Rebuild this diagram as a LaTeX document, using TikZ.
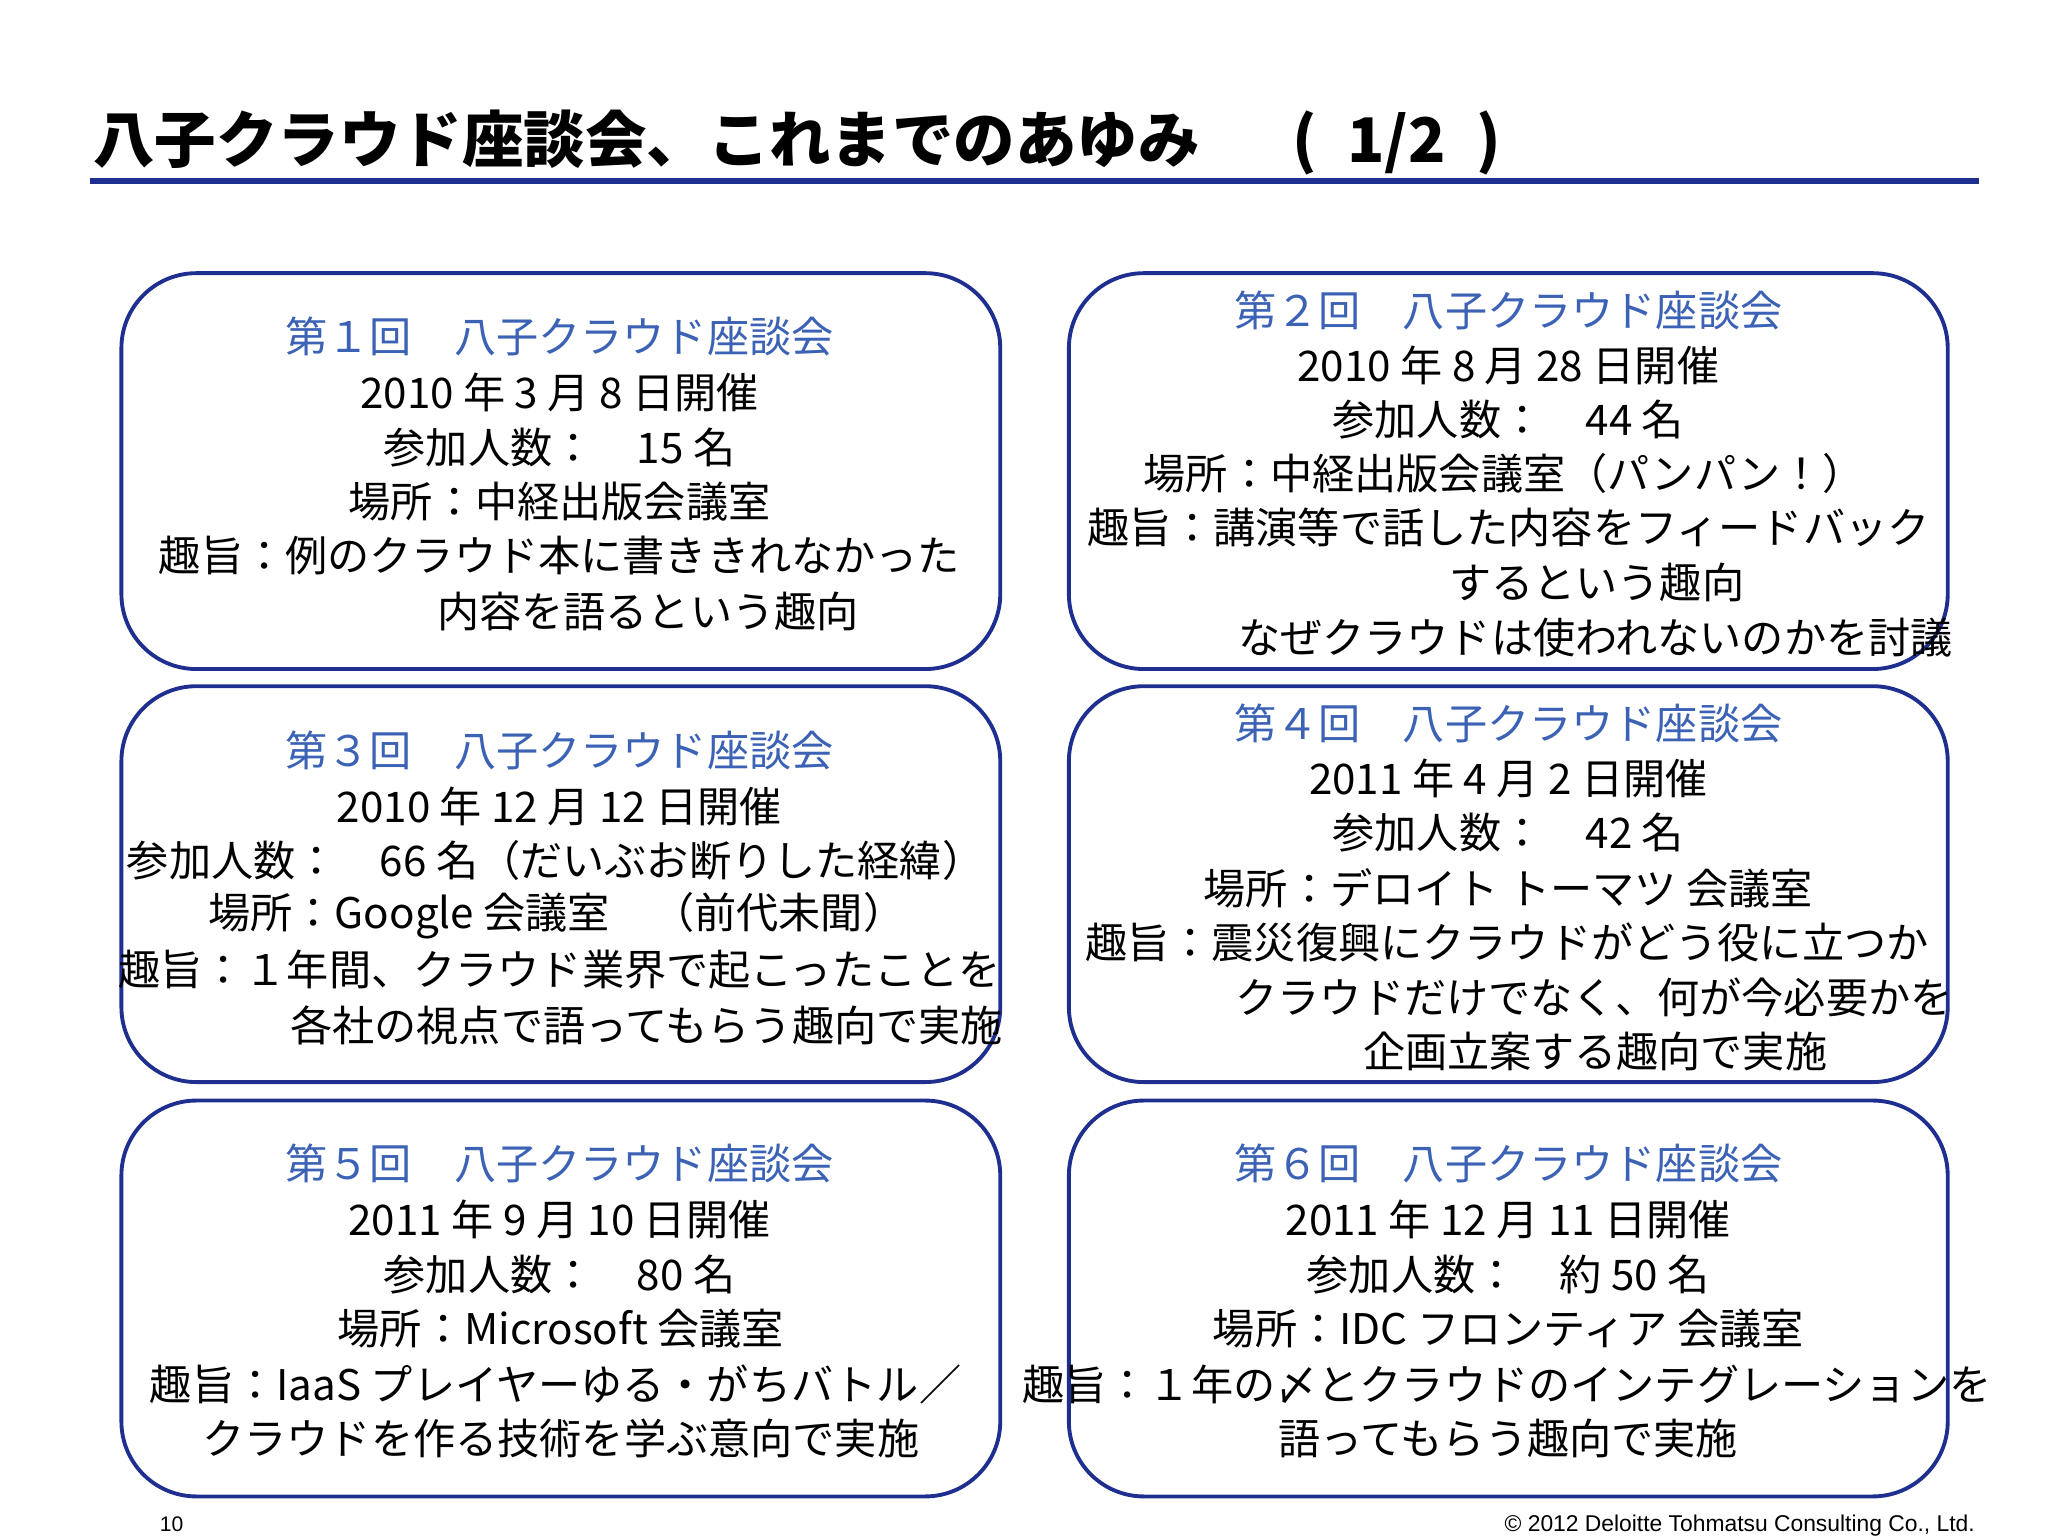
\documentclass[tikz,border=0pt]{standalone}
\usepackage{fontspec}
\setmainfont{Noto Sans CJK JP}
\newfontfamily\lat{Liberation Sans}
\definecolor{hdblue}{HTML}{3B62B5}
\definecolor{bdblue}{HTML}{1F2F8F}
\begin{document}
\begin{tikzpicture}[x=0.013196cm,y=-0.013196cm,
  box/.style={draw=bdblue,line width=1.1pt,rounded corners=0.75cm},
  ln/.style={inner sep=0pt,anchor=center,font=\fontsize{12}{14}\selectfont},
  hd/.style={ln,text=hdblue}]
\useasboundingbox (0,0) rectangle (1552,1164);
\node[anchor=west,inner sep=0pt,font=\fontsize{17.5}{20}\bfseries\selectfont] (title) at (70,108) {八子クラウド座談会、これまでのあゆみ\hspace{1.5em}(\hspace{0.5em}1/2\hspace{0.5em})};
\draw[bdblue,line width=1.6pt] (68,137) -- (1500,137);
\foreach \n/\x/\y in {b1/92/207,b2/810/207,b3/92/520,b4/810/520,b5/92/834,b6/810/834}
  \draw[box] (\x,\y) rectangle ++(666,300);
% box1
\node[hd] (t1) at (424,255) {第１回　八子クラウド座談会};
\node[ln] at (424,297) {2010 年 3 月 8 日開催};
\node[ln] at (424,339) {参加人数：　15 名};
\node[ln] at (424,380) {場所：中経出版会議室};
\node[ln] at (424,421) {趣旨：例のクラウド本に書ききれなかった};
\node[ln] at (491,463) {内容を語るという趣向};
% box2
\node[hd] (t2) at (1143,235) {第２回　八子クラウド座談会};
\node[ln] at (1143,277) {2010 年 8 月 28 日開催};
\node[ln] at (1143,318) {参加人数：　44 名};
\node[ln] at (1140,359) {場所：中経出版会議室（パンパン！）};
\node[ln] at (1143,400) {趣旨：講演等で話した内容をフィードバック};
\node[ln] at (1210,441) {するという趣向};
\node[ln] at (1209,483) {なぜクラウドは使われないのかを討議};
% box3
\node[hd] (t3) at (424,569) {第３回　八子クラウド座談会};
\node[ln] at (424,611) {2010 年 12 月 12 日開催};
\node[ln] at (421,652) {参加人数：　66 名（だいぶお断りした経緯）};
\node[ln] at (422,694) {場所：Google 会議室　（前代未聞）};
\node[ln] at (424,735) {趣旨：１年間、クラウド業界で起こったことを};
\node[ln] at (490,777) {各社の視点で語ってもらう趣向で実施};
% box4
\node[hd] (t4) at (1143,548) {第４回　八子クラウド座談会};
\node[ln] at (1143,590) {2011 年 4 月 2 日開催};
\node[ln] at (1143,631) {参加人数：　42 名};
\node[ln] at (1143,673) {場所：デロイト トーマツ 会議室};
\node[ln] at (1142,714) {趣旨：震災復興にクラウドがどう役に立つか};
\node[ln] at (1208,756) {クラウドだけでなく、何が今必要かを};
\node[ln] at (1209,797) {企画立案する趣向で実施};
% box5
\node[hd] (t5) at (424,882) {第５回　八子クラウド座談会};
\node[ln] at (424,924) {2011 年 9 月 10 日開催};
\node[ln] at (424,966) {参加人数：　80 名};
\node[ln] at (425,1007) {場所：Microsoft 会議室};
\node[ln] at (421,1049) {趣旨：IaaS プレイヤーゆる・がちバトル／};
\node[ln] at (425,1090) {クラウドを作る技術を学ぶ意向で実施};
% box6
\node[hd] (t6) at (1143,882) {第６回　八子クラウド座談会};
\node[ln] at (1143,924) {2011 年 12 月 11 日開催};
\node[ln] at (1143,966) {参加人数：　約 50 名};
\node[ln] at (1143,1007) {場所：IDC フロンティア 会議室};
\node[ln] at (1142,1049) {趣旨：１年の〆とクラウドのインテグレーションを};
\node[ln] at (1143,1090) {語ってもらう趣向で実施};
% footer
\node[inner sep=0pt,font=\lat\fontsize{6}{7}\selectfont] (pg) at (130,1155) {10};
\node[anchor=east,inner sep=0pt,font=\lat\fontsize{6.5}{7}\selectfont] (cp) at (1497,1156) {© 2012 Deloitte Tohmatsu Consulting Co., Ltd.};
\end{tikzpicture}
\end{document}
